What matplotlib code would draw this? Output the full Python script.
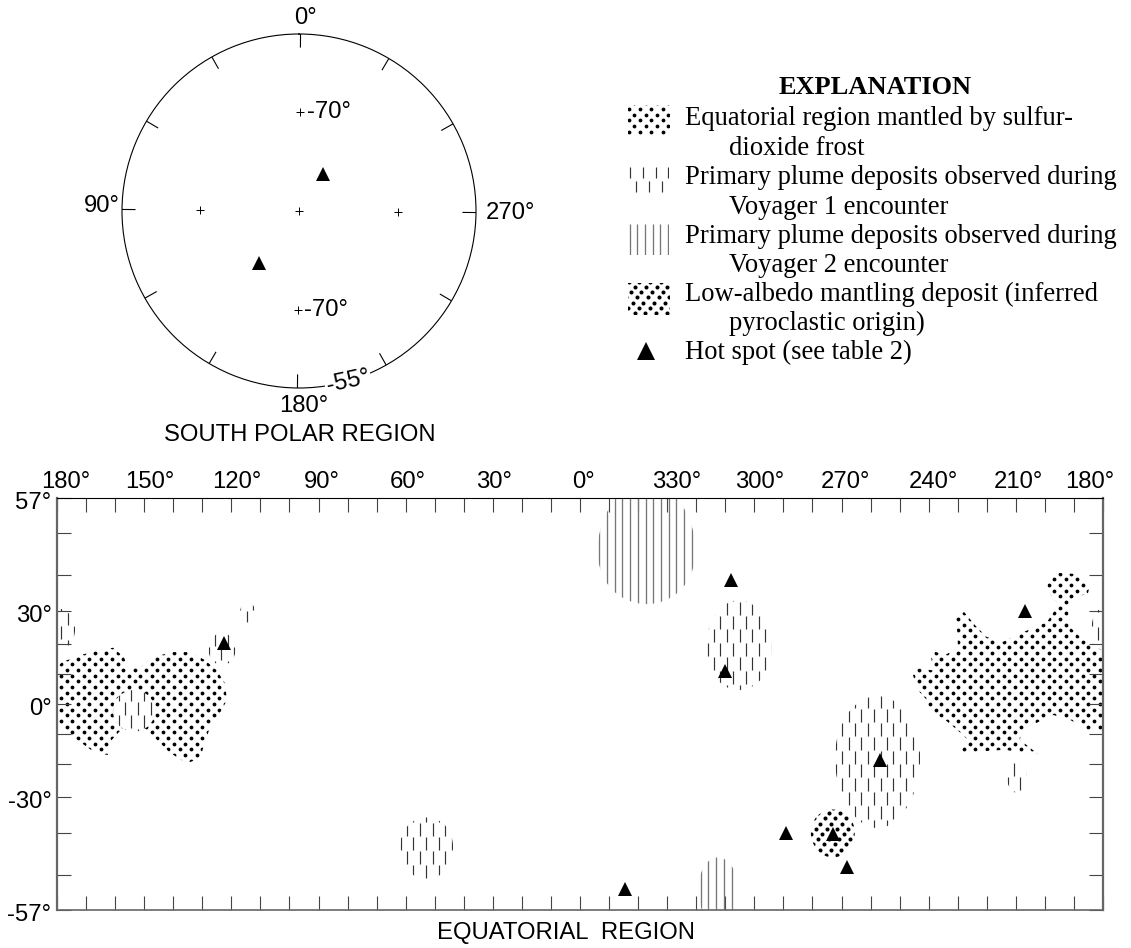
import matplotlib
matplotlib.use("Agg")
import matplotlib.pyplot as plt
import numpy as np
from matplotlib.collections import LineCollection
from matplotlib.patches import Ellipse, Polygon, Rectangle
from matplotlib.transforms import ScaledTranslation

W, H = 1131, 948
SANS = "Liberation Sans"
SERIF = "Liberation Serif"
GREY = "#666666"
SANS_SIZE = 17.2
SERIF_SIZE = 19.2
POLAR_TILT = -0.5  # the polar map is printed very slightly turned

# longitudes run 180 -> 0 -> -180 (west longitude, -30 is 330 deg)
lon_ticks = list(range(180, -181, -10))
lon_label_pos = [180, 150, 120, 90, 60, 30, 0, -30, -60, -90, -120, -150, -180]
lon_labels = ["180°", "150°", "120°", "90°", "60°", "30°", "0°", "330°", "300°", "270°", "240°", "210°", "180°"]
lat_ticks = [57, 50, 40, 30, 20, 10, 0, -10, -20, -30, -40, -50, -57]
lat_labels = ["57°", "", "", "30°", "", "", "0°", "", "", "-30°", "", "", "-57°"]

# hot spots
hot_lon = [122.5, -52, -50, -103.2, -71, -87, -92, -15.5, -153]
hot_lat = [20.3, 38.6, 11, -18.7, -40, -40.3, -48.3, -53, 30]
polar_hot_theta = [328, 143]
polar_hot_lat = [-81, -76.8]
polar_tick_theta = list(range(0, 360, 30))
polar_cross_theta = [0, 0, 90, 180, 270]
polar_cross_lat = [-90, -70, -70, -70, -70]

# sulfur-dioxide frost outlines
frost_left_lon = [180, 178.3, 172.1, 166.2, 160.7, 157, 155.6, 151.4, 147, 140.1, 134.2, 129.1, 125, 122.2,
                  121.5, 123.9, 127.3, 129.1, 130.8, 135.3, 141.1, 145.6, 150.4, 157.3, 161.1, 162.4, 166.9,
                  172.1, 176.2, 180]
frost_left_lat = [12.3, 14, 16.3, 17.7, 18.7, 15.7, 12.3, 12.3, 15.7, 17.3, 17.3, 14.7, 11.3, 7,
                  1.3, -3, -7.7, -13, -18, -19.7, -16.3, -12, -7.7, -8, -12, -17, -16.3,
                  -12.7, -9.7, -8]
frost_right_lon = [-114.6, -116.3, -121.5, -120.5, -125.6, -130.1, -129.8, -129, -132.2, -136, -140, -145.6,
                   -152.5, -160.7, -163.5, -164.2, -160.7, -161, -164.5, -171, -175.5, -174.8, -169.3, -168,
                   -168.6, -173.1, -180, -180, -174.5, -168.6, -162.8, -157.3, -152.1, -151.4, -157.6, -152.5,
                   -146.3, -130.8, -133.5, -129.8, -125.6, -119.8, -119.4, -116.3]
frost_right_lat = [9.7, 12, 11.3, 18, 16.3, 18.7, 24.2, 27.9, 29.7, 25.7, 22.1, 20.6,
                   23.6, 26.7, 30.3, 32.5, 35.8, 38, 40.5, 40.2, 37.2, 35, 33.6, 30.8,
                   25.2, 21.2, 18.7, -8.7, -8.7, -5.3, -3.7, -6.3, -8.7, -12, -16.7, -16.3,
                   -15.3, -16.3, -12, -8.7, -5.3, -2, 1.3, 4.7]

# plume deposits: centre lon, centre lat, lon width, lat height
v1_lon = [-54.7, -102.4, 52.8, 153.5, 180, -180, 123.2, 114.4, -150.4]
v1_lat = [18.9, -18, -43.4, -2.3, 24.4, 24.4, 18.2, 29.6, -24]
v1_w = [22.7, 29.3, 18.2, 14.5, 12.4, 8, 9.3, 5.2, 6.9]
v1_h = [28.4, 41.3, 15.2, 14, 12.8, 12.8, 10.3, 6, 9.5]
v2_lon = [-22.9, -47.5]
v2_lat = [46, -53]
v2_w = [32.7, 13.1]
v2_h = [28, 14]
albedo_lon, albedo_lat, albedo_w, albedo_h = -87, -39.8, 15.1, 12.4

legend_lines = [
    (685, 118, "Equatorial region mantled by sulfur-"),
    (729, 148, "dioxide frost"),
    (685, 177, "Primary plume deposits observed during"),
    (729, 207, "Voyager 1 encounter"),
    (685, 236, "Primary plume deposits observed during"),
    (729, 265, "Voyager 2 encounter"),
    (685, 294, "Low-albedo mantling deposit (inferred"),
    (729, 323, "pyroclastic origin)"),
    (685, 352, "Hot spot (see table 2)"),
]

# where the fill patterns start, in picture pixels
v1_anchor_x = [726.7, 835.7, 419.7, 125, 67.7, 1091.7, 215, 246.7, 1014]
v1_anchor_y = [601.7, 736.7, 823.3, 701.5, 612, 613, 633, 611, 763]
v2_anchor_x = [599.3, 700.7]
lon_label_dx = [9, 6, 5, 3, 2, 1, 3, 9, 5, 4, 5, 3, -13]


def merc(lat):
    lat = np.clip(lat, -85, 85)
    return np.log(np.tan(np.radians(45 + np.asarray(lat) / 2)))


def inv_merc(y):
    return 2 * np.degrees(np.arctan(np.exp(y))) - 90


def polar_r(lat):
    return np.tan(np.radians(90 + np.asarray(lat)) / 2)


def polar_t(theta):
    return np.radians(np.asarray(theta) + POLAR_TILT)


fig = plt.figure(figsize=(W / 100, H / 100), dpi=100, facecolor="white")

ax = fig.add_axes([57 / W, 1 - 910 / H, 1046 / W, 412 / H])
ax.set_yscale("function", functions=(merc, inv_merc))
ax.set_xlim(180, -180)
ax.set_ylim(-57, 57)

# overlay in picture pixels, for the text and the fill textures
over = fig.add_axes([0, 0, 1, 1], zorder=5)
over.set_xlim(0, W)
over.set_ylim(H, 0)
over.axis("off")


def dots(target, patch, x0, y0, dx, dy, size, shear=0.0, zorder=1.1):
    xs, ys = [], []
    for row in range(-200, 200):
        y = y0 + row * dy
        if y < 0 or y > H:
            continue
        col = np.arange(-120, 120) * dx + x0 + (row % 2) * dx / 2 + shear * row
        col = col[(col > 0) & (col < W)]
        xs.extend(col)
        ys.extend([y] * len(col))
    art = target.scatter(xs, ys, s=size, c="black", linewidths=0, transform=over.transData, zorder=zorder)
    art.set_clip_path(patch)


def dashes(target, patch, x0, y0, dx=6.4, period=27.7, length=13, ylims=(498, 910), zorder=1.6):
    segs = []
    for i in range(-200, 200):
        x = x0 + i * dx
        if x < 57 or x > 1103:
            continue
        for k in range(-40, 40):
            top = y0 + k * period + (i % 2) * period / 2
            a, b = np.clip([top, top + length], *ylims)
            if b > a:
                segs.append([(x, a), (x, b)])
    art = LineCollection(segs, colors="#333333", linewidths=0.85, transform=over.transData, zorder=zorder)
    target.add_collection(art, autolim=False)
    art.set_clip_path(patch)


def vlines(target, patch, x0, dx=7.7, ylims=(498, 910), zorder=1.6):
    segs = []
    for i in range(-150, 150):
        x = x0 + i * dx
        if 57 < x < 1103:
            segs.append([(x, ylims[0]), (x, ylims[1])])
    art = LineCollection(segs, colors="#777777", linewidths=0.95, transform=over.transData, zorder=zorder)
    target.add_collection(art, autolim=False)
    art.set_clip_path(patch)


# frost
left = ax.add_patch(Polygon(np.column_stack([frost_left_lon, frost_left_lat]), fc="white", ec="none", zorder=1))
dots(ax, left, 95, 653, 11.3, 5.67, 7.5)
right = ax.add_patch(Polygon(np.column_stack([frost_right_lon, frost_right_lat]), fc="white", ec="none", zorder=1))
dots(ax, right, 964, 613.3, 11.3, 5.67, 7.5)

# Voyager 1 plumes
for lon, lat, w, h, x0, y0 in zip(v1_lon, v1_lat, v1_w, v1_h, v1_anchor_x, v1_anchor_y):
    e = ax.add_patch(Ellipse((lon, lat), w, h, fc="white", ec="none", zorder=1.5))
    dashes(ax, e, x0, y0)

# Voyager 2 plumes
for lon, lat, w, h, x0 in zip(v2_lon, v2_lat, v2_w, v2_h, v2_anchor_x):
    e = ax.add_patch(Ellipse((lon, lat), w * 1.03, h, fc="white", ec="none", zorder=1.5))
    vlines(ax, e, x0)

# low-albedo deposit
e = ax.add_patch(Ellipse((albedo_lon, albedo_lat), albedo_w, albedo_h, fc="white", ec="none", zorder=1.7))
dots(ax, e, 833, 834, 10.8, 5.2, 8.5, shear=1.0, zorder=1.8)

ax.plot(hot_lon, hot_lat, "^", color="black", ms=10.5, mew=0, zorder=5)

ax.set_xticks(lon_ticks)
ax.set_xticklabels([])
ax.set_yticks(lat_ticks)
ax.set_yticklabels(lat_labels, family=SANS, fontsize=SANS_SIZE)
ax.minorticks_off()
ax.tick_params(axis="both", which="major", direction="in", length=10, width=0.8, color="#444444",
               top=True, bottom=True, left=True, right=True, labelbottom=False, pad=4)
for side, lw, col in [("left", 1.6, GREY), ("right", 1.6, GREY), ("top", 0.8, "black"), ("bottom", 1.2, GREY)]:
    ax.spines[side].set_linewidth(lw)
    ax.spines[side].set_color(col)
# latitude labels sit a little under their ticks
down = ScaledTranslation(0, -2.5 / 100, fig.dpi_scale_trans)
for lab in ax.get_yticklabels():
    lab.set_transform(lab.get_transform() + down)

for pos, lab, dx in zip(lon_label_pos, lon_labels, lon_label_dx):
    ax.annotate(lab, xy=(pos, 1), xycoords=("data", "axes fraction"), xytext=(dx, 5),
                textcoords="offset pixels", ha="center", va="bottom", family=SANS, fontsize=SANS_SIZE)

# south polar map
pol = fig.add_axes([122 / W, 1 - 388 / H, 354 / W, 354 / H], projection="polar")
pol.set_theta_zero_location("N")
pol.set_theta_direction(1)
rmax = polar_r(-55)
pol.set_rlim(0, rmax)
pol.set_yticks([])
pol.set_xticks(np.radians(polar_tick_theta))
pol.set_xticklabels([])
pol.tick_params(axis="x", length=0)
pol.grid(False)
pol.spines["polar"].set_linewidth(0.8)
for t in polar_tick_theta:
    pol.plot(polar_t([t, t]), [rmax * (1 - 13 / 177), rmax], color="black", lw=0.8)
pol.plot(polar_t(polar_cross_theta), polar_r(polar_cross_lat), "+", color="black", ms=6, mew=0.7)
pol.plot(polar_t(polar_hot_theta), polar_r(polar_hot_lat), "^", color="black", ms=10.5, mew=0)

sans_text = [
    (305, 18, "0°", 0), (102, 206, "90°", 0), (510, 213, "270°", 0), (304, 406, "180°", 0),
    (329, 112, "-70°", 0), (326, 310, "-70°", 0),
    (300, 435, "SOUTH POLAR REGION", 0), (566, 933, "EQUATORIAL  REGION", 0),
]
for x, y, s, rot in sans_text:
    over.text(x, y, s, family=SANS, fontsize=SANS_SIZE, ha="center", va="center", rotation=rot)
# this one breaks the circle
over.text(348, 382, "-55°", family=SANS, fontsize=SANS_SIZE, ha="center", va="center", rotation=12,
          bbox=dict(fc="white", ec="none", pad=1))

# explanation
over.text(875.5, 87, "EXPLANATION", family=SERIF, weight="bold", fontsize=19, ha="center", va="center")
for x, y, s in legend_lines:
    over.text(x, y, s, family=SERIF, fontsize=SERIF_SIZE, ha="left", va="center")

sw1 = over.add_patch(Rectangle((628, 105), 41, 29, fc="white", ec="none"))
dots(over, sw1, 640, 109, 11.3, 5.67, 7.5)
sw2 = over.add_patch(Rectangle((628, 165), 41, 30, fc="white", ec="none"))
dashes(over, sw2, 630, 167, dx=6.4, period=28, length=11, ylims=(165, 195))
sw3 = over.add_patch(Rectangle((628, 224), 41, 31, fc="white", ec="none"))
vlines(over, sw3, 629.5, ylims=(224, 255))
sw4 = over.add_patch(Rectangle((628, 283), 41, 31, fc="white", ec="none"))
dots(over, sw4, 635, 287, 10.8, 5.2, 8.5, shear=1.0)
over.plot([646], [351], "^", color="black", ms=13, mew=0)

fig.savefig("out.png", dpi=100)
